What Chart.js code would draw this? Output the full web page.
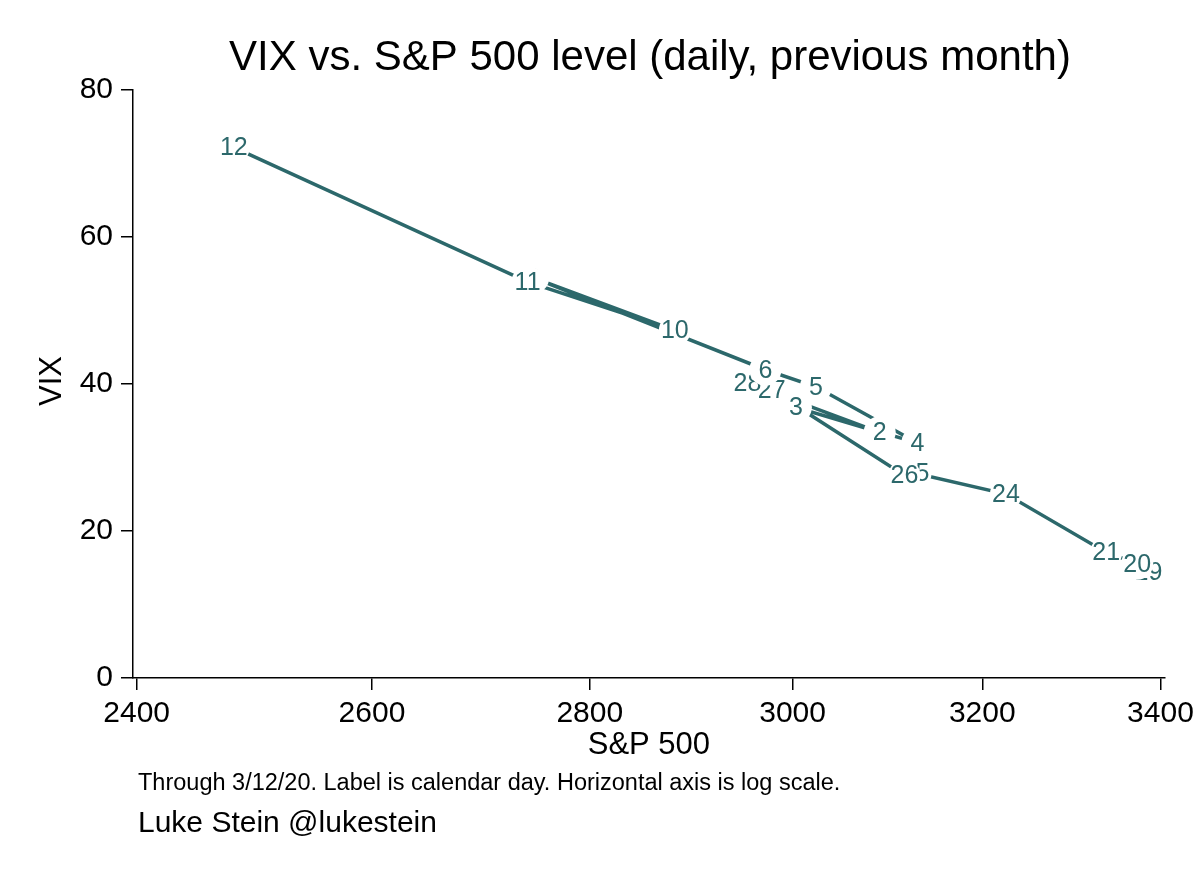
<!DOCTYPE html>
<html>
<head>
<meta charset="utf-8">
<title>VIX vs S&P 500</title>
<script src="https://cdn.jsdelivr.net/npm/chart.js@4.4.1/dist/chart.umd.min.js"></script>
<style>
  body { margin: 0; background: #fff; }
  canvas { display: block; }
</style>
</head>
<body>
<canvas id="chart" width="1200" height="873"></canvas>
<script>
// calendar day labels, Feb 19 .. Mar 12 2020
const dayLabels = ['19','20','21','24','25','26','27','28','2','3','4','5','6','9','10','11','12']
const spx = [3386.15,3373.23,3337.75,3225.89,3128.21,3116.39,2978.76,2954.22,3090.23,3003.37,3130.12,3023.94,2972.37,2746.56,2882.23,2741.38,2480.64]
const vix = [14.38,15.56,17.08,25.03,27.85,27.56,39.16,40.11,33.42,36.82,31.99,39.62,41.94,54.46,47.30,53.90,72.2]
const xTicks = [2400,2600,2800,3000,3200,3400]
const yTicks = [0,20,40,60,80]

const teal = 'rgb(44,104,107)'
const font = '"Liberation Sans", Arial, Helvetica, sans-serif'

let points = []
for(let i = 0; i < spx.length; i++){
  points.push({x: spx[i], y: vix[i]})
}

// day number on each point, with a white round marker under it that hides the line
const dayLabelPlugin = {
  id: 'dayLabels',
  afterDatasetsDraw(chart){
    const ctx = chart.ctx
    const meta = chart.getDatasetMeta(0)
    ctx.save()
    ctx.font = `25px ${font}`
    ctx.textAlign = 'center'
    ctx.textBaseline = 'middle'
    meta.data.forEach((pt, i) => {
      ctx.fillStyle = '#fff'
      ctx.beginPath()
      ctx.arc(pt.x, pt.y, 16, 0, Math.PI*2)
      ctx.fill()
      ctx.fillStyle = teal
      ctx.fillText(dayLabels[i], pt.x, pt.y + 1)
    })
    ctx.restore()
  }
}

// titles and notes, placed like the Stata graph
const textPlugin = {
  id: 'texts',
  afterDraw(chart){
    const ctx = chart.ctx
    const area = chart.chartArea
    ctx.save()
    ctx.fillStyle = '#000'
    ctx.textBaseline = 'alphabetic'

    ctx.font = `42px ${font}`
    ctx.textAlign = 'center'
    ctx.fillText('VIX vs. S&P 500 level (daily, previous month)', 650, 70)

    ctx.font = `31px ${font}`
    ctx.fillText('S&P 500', (area.left + area.right)/2, 754)

    ctx.save()
    ctx.translate(61, 381)
    ctx.rotate(-Math.PI/2)
    ctx.fillText('VIX', 0, 0)
    ctx.restore()

    ctx.textAlign = 'left'
    ctx.font = `23.5px ${font}`
    ctx.fillText('Through 3/12/20. Label is calendar day. Horizontal axis is log scale.', 138, 790)
    ctx.font = `30px ${font}`
    ctx.fillText('Luke Stein @lukestein', 138, 832)
    ctx.restore()
  }
}

const myChart = new Chart(document.getElementById('chart'), {
  type: 'scatter',
  data: {
    datasets: [{
      data: points,
      showLine: true,
      borderColor: teal,
      borderWidth: 3.5,
      pointRadius: 0,
      tension: 0,
      clip: false
    }]
  },
  options: {
    responsive: false,
    animation: false,
    devicePixelRatio: 1,
    layout: { padding: { top: 90, right: 33, left: 0, bottom: 0 } },
    plugins: {
      legend: { display: false },
      tooltip: { enabled: false },
      title: { display: false }
    },
    scales: {
      x: {
        type: 'logarithmic',
        min: 2397,
        max: 3405,
        afterBuildTicks: s => { s.ticks = xTicks.map(v => ({value: v})) },
        afterFit: s => { s.height = 873 - 678 },
        ticks: {
          color: '#000',
          font: { family: font, size: 30 },
          padding: 6,
          maxRotation: 0,
          autoSkip: false,
          callback: v => String(v)
        },
        grid: { drawOnChartArea: false, drawTicks: true, tickLength: 12, color: '#000', lineWidth: 1.5 },
        border: { display: true, color: '#000', width: 1.5 }
      },
      y: {
        min: 0,
        max: 80,
        afterBuildTicks: s => { s.ticks = yTicks.map(v => ({value: v})) },
        afterFit: s => { s.width = 133 },
        ticks: {
          color: '#000',
          font: { family: font, size: 30 },
          padding: 8,
          callback: v => String(v)
        },
        grid: { drawOnChartArea: false, drawTicks: true, tickLength: 12, color: '#000', lineWidth: 1.5 },
        border: { display: true, color: '#000', width: 1.5 }
      }
    }
  },
  plugins: [dayLabelPlugin, textPlugin]
})
</script>
</body>
</html>
